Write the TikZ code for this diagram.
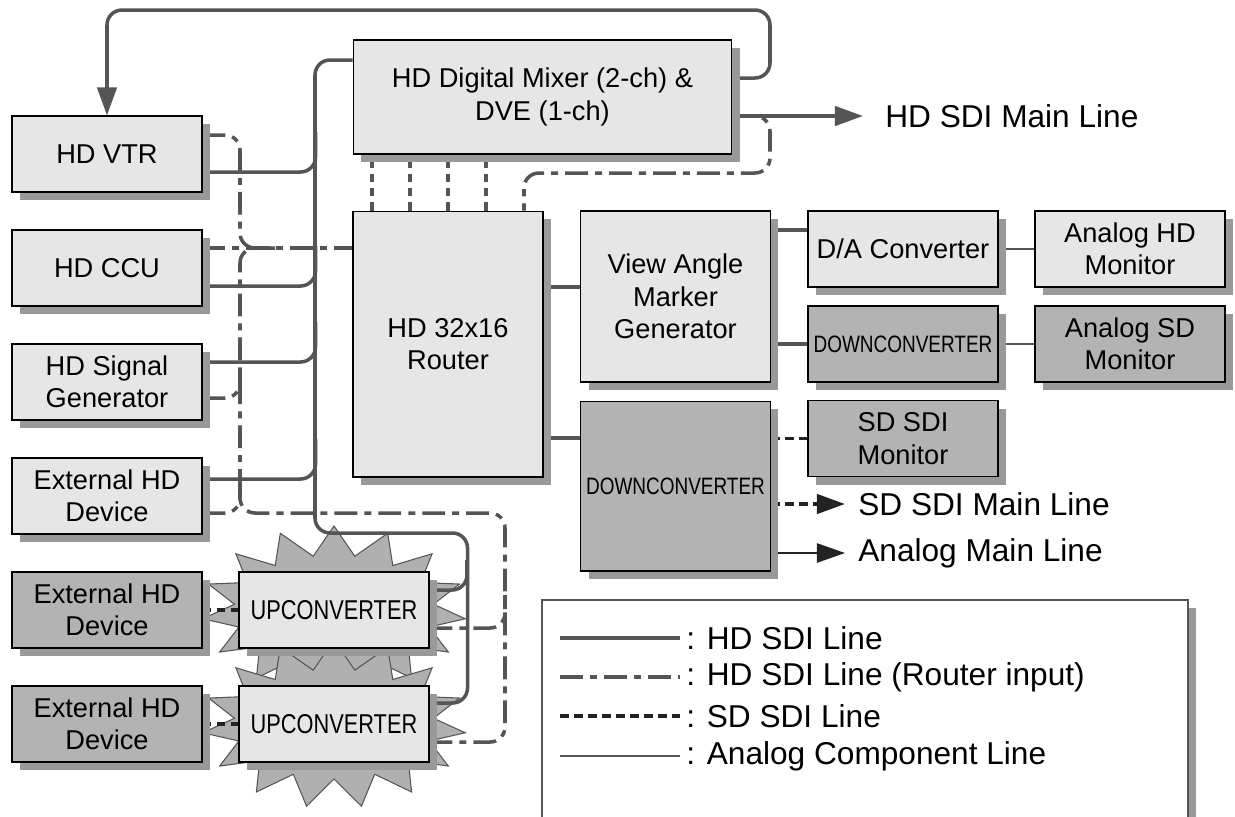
\documentclass[tikz,border=0pt]{standalone}
\usepackage{fontspec}
\setmainfont{Liberation Sans}
\newfontfamily\narrowfont{Liberation Sans}[FakeStretch=0.8]
\usetikzlibrary{arrows.meta,calc,shadows}
\definecolor{linegray}{HTML}{555555}
\definecolor{wireblack}{HTML}{222222}
\definecolor{boxlight}{HTML}{E6E6E6}
\definecolor{boxdark}{HTML}{B3B3B3}
\definecolor{shadowgray}{HTML}{999999}
\definecolor{starfill}{HTML}{B0B0B0}
\pgfdeclarelayer{stars}
\pgfdeclarelayer{wires}
\pgfsetlayers{stars,wires,main}
\begin{document}
\begin{tikzpicture}[x=0.02cm,y=-0.02cm,
  box/.style={draw=black,line width=0.6pt,fill=boxlight,inner sep=2pt,align=center,
    minimum width=3.8cm,minimum height=1.52cm,font=\fontsize{15.5}{18.5}\selectfont,
    general shadow={fill=shadowgray,shadow xshift=0.16cm,shadow yshift=-0.16cm}},
  darkbox/.style={box,fill=boxdark},
  narrow/.style={font=\fontsize{13.5}{16}\narrowfont},
  hdsdi/.style={draw=linegray,line width=2pt},
  hdrin/.style={hdsdi,dash pattern=on 13pt off 4pt on 4pt off 4pt,rounded corners=0.3cm},
  sdsdi/.style={hdsdi,dash pattern=on 5pt off 3pt},
  analog/.style={draw=linegray,line width=0.9pt},
  tip/.style={-{Triangle[length=16pt,width=11pt]}},
  outlabel/.style={anchor=west,inner sep=0pt,font=\fontsize{18}{21}\selectfont},
  legendtext/.style={anchor=west,inner sep=0pt,font=\fontsize{18}{21}\selectfont},
  starshape/.style={fill=starfill,draw=linegray,line width=0.6pt}]
 \useasboundingbox (0,0) rectangle (1235,816);
 % sources
 \node[box] (vtr) at (107,154) {HD VTR};
 \node[box] (ccu) at (107,268) {HD CCU};
 \node[box] (siggen) at (107,382) {HD Signal\\Generator};
 \node[box] (exthd) at (107,496) {External HD\\Device};
 \node[darkbox] (extA) at (107,610) {External HD\\Device};
 \node[darkbox] (extB) at (107,724) {External HD\\Device};
 \node[box,font=\fontsize{15.5}{18}\narrowfont] (upA) at (334,610) {UPCONVERTER};
 \node[box,font=\fontsize{15.5}{18}\narrowfont] (upB) at (334,724) {UPCONVERTER};
 % switching
 \node[box,minimum width=7.58cm,minimum height=2.28cm] (mixer) at (542.5,97) {HD Digital Mixer (2-ch) \&\\DVE (1-ch)};
 \node[box,minimum height=5.32cm] (router) at (448,344) {HD 32x16\\Router};
 \node[box,minimum height=3.42cm] (vam) at (675.5,296.5) {View Angle\\Marker\\Generator};
 \node[darkbox,narrow,minimum height=3.4cm] (dcbig) at (675.5,486) {DOWNCONVERTER};
 % monitoring
 \node[box] (dac) at (903,249) {D/A Converter};
 \node[darkbox,narrow] (dcsmall) at (903,344) {DOWNCONVERTER};
 \node[darkbox] (sdmon) at (903,438.5) {SD SDI\\Monitor};
 \node[box] (ahdmon) at (1130,249) {Analog HD\\Monitor};
 \node[darkbox] (asdmon) at (1130,344) {Analog SD\\Monitor};
 \node[outlabel] (hdmain) at (885,116) {HD SDI Main Line};
 \node[outlabel] (sdmain) at (858,504) {SD SDI Main Line};
 \node[outlabel] (anmain) at (858,553) {Analog Main Line};
 \begin{pgfonlayer}{stars}
 \foreach \u in {upA,upB}{
  \filldraw[starshape] ($(\u)+(0,-84)$)
   \foreach \i [evaluate=\i as \ang using 90+12*\i,
     evaluate=\i as \rx using {mod(\i,2)==0 ? 132 : 100},
     evaluate=\i as \ry using {mod(\i,2)==0 ? 84 : 55}] in {1,...,29}{ -- ($(\u)+({\rx*cos(\ang)},{-\ry*sin(\ang)})$) } -- cycle;}
 \end{pgfonlayer}
 \begin{pgfonlayer}{wires}
 % HD SDI
 \draw[hdsdi,tip,rounded corners=0.3cm] ($(mixer.east)+(0,-19)$) -| (770,10) -| (vtr.north);
 \draw[hdsdi,tip,shorten >=0.44cm] ($(mixer.east)+(0,19)$) -- (hdmain.west);
 \draw[hdsdi,rounded corners=0.3cm] ($(mixer.west)+(0,-37)$) -| (315,533) -| ($(upB.east)+(38,-21)$) -- ($(upB.east)+(0,-21)$);
 \draw[hdsdi,rounded corners=0.3cm] ($(upA.east)+(0,-20)$) -| (467,560);
 \foreach \src/\dy in {vtr/18,ccu/18,siggen/-20,exthd/-17}
  \draw[hdsdi,rounded corners=0.3cm] ($(\src.east)+(0,\dy)$) -| ++(113,-40);
 \draw[hdsdi] ($(router.east)+(0,-57)$) -- ($(vam.west)+(0,-9.5)$);
 \draw[hdsdi] ($(router.east)+(0,94)$) -- ($(dcbig.west)+(0,-48)$);
 \draw[hdsdi] ($(vam.east)+(0,-66.5)$) -- ($(dac.west)+(0,-19)$);
 \draw[hdsdi] (vam.east |- dcsmall.west) -- (dcsmall.west);
 % analog component
 \draw[analog] (dac.east) -- (ahdmon.west);
 \draw[analog] (dcsmall.east) -- (asdmon.west);
 \draw[analog,draw=wireblack,tip,shorten >=0.26cm] (dcbig.east |- anmain.west) -- (anmain.west);
 % SD SDI
 \foreach \dx in {-76,-38,0,38}
  \draw[sdsdi] ($(router.north)+(\dx,0)$) coordinate (p) -- (p |- mixer.south);
 \draw[sdsdi,draw=wireblack] (dcbig.east |- sdmon.west) -- (sdmon.west);
 \draw[sdsdi,draw=wireblack,tip,shorten >=0.26cm] (dcbig.east |- sdmain.west) -- (sdmain.west);
 \draw[sdsdi,draw=wireblack] (extA.east) -- (upA.west);
 \draw[sdsdi,draw=wireblack] (extB.east) -- (upB.west);
 % HD SDI router inputs
 \draw[hdrin] ($(mixer.east)+(0,19)$) -| (770,173) -| ($(router.north)+(76,0)$);
 \draw[hdrin] ($(ccu.east)+(0,-20)$) coordinate (ccuin) -- (ccuin -| router.west);
 \draw[hdrin] ($(vtr.east)+(0,-19)$) -| (240,248) -- (275,248);
 \draw[hdrin] ($(upB.east)+(0,18)$) -| (505,513) -| (240,248) -- (275,248);
 \draw[hdrin] ($(upA.east)+(0,18)$) -| (505,595);
 \draw[hdrin] ($(siggen.east)+(0,16)$) -| (240,370);
 \draw[hdrin] ($(exthd.east)+(0,17)$) -| (240,485);
 \end{pgfonlayer}
 % legend
 \begin{scope}
  \clip (0,0) rectangle (1235,816);
  \draw[draw=linegray,line width=0.6pt,fill=white,general shadow={fill=shadowgray,shadow xshift=0.16cm,shadow yshift=-0.16cm}] (542,600) rectangle (1188,860);
 \end{scope}
 \node[legendtext] (lgA) at (686,638) {: HD SDI Line};
 \node[legendtext] (lgB) at (686,677) {: HD SDI Line (Router input)};
 \node[legendtext] (lgC) at (686,716) {: SD SDI Line};
 \node[legendtext] (lgD) at (686,756) {: Analog Component Line};
 \draw[hdsdi] ($(lgA.west)+(-126,0)$) -- ($(lgA.west)+(-6,0)$);
 \draw[hdsdi,dash pattern=on 13pt off 4pt on 4pt off 4pt] ($(lgB.west)+(-126,0)$) -- ($(lgB.west)+(-6,0)$);
 \draw[sdsdi,draw=wireblack] ($(lgC.west)+(-126,0)$) -- ($(lgC.west)+(-6,0)$);
 \draw[analog] ($(lgD.west)+(-126,0)$) -- ($(lgD.west)+(-6,0)$);
\end{tikzpicture}
\end{document}
